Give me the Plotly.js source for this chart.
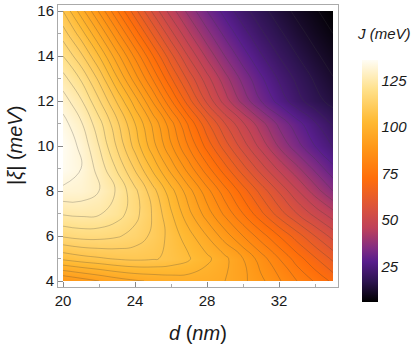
<!DOCTYPE html>
<html>
<head>
<meta charset="utf-8">
<script src="https://cdn.plot.ly/plotly-3.0.1.min.js"></script>
<style>html,body{margin:0;padding:0;background:#fff;}#chart{width:415px;height:345px;}</style>
</head>
<body>
<div id="chart"></div>
<script>
// d (nm) grid and |xi| (meV) grid
const dValues = [20,21,22,23,24,25,26,27,28,29,30,31,32,33,34,35];
const xiValues = [4,5,6,7,8,9,10,11,12,13,14,15,16];

// J (meV) rows, one per |xi| value
const J_xi4  = [88, 90, 92, 94, 95.5, 96.5, 97.5, 98, 97.5, 96, 93, 89, 84.5, 80, 75.5, 71];
const J_xi5  = [105, 106.5, 107.5, 108.5, 109, 108.5, 107, 104.5, 101, 97, 92, 86, 80, 74, 68.5, 63];
const J_xi6  = [116.5, 117.5, 117.5, 116.5, 114.5, 111, 106.5, 101.5, 96, 90, 84, 78, 72, 66, 60, 54.5];
const J_xi7  = [124.5, 125, 124.5, 122, 117.5, 111.5, 104.5, 97, 90, 83, 76, 69, 62, 56, 50.5, 45.5];
const J_xi8  = [131, 130.5, 128, 123.5, 117, 109.5, 101.5, 93.5, 85.5, 77.5, 70, 62.5, 55.5, 48.5, 42, 36];
const J_xi9  = [135, 132, 126.5, 119.5, 111.5, 103, 94.5, 86, 77.5, 69.5, 61.5, 54, 47, 41, 35, 29];
const J_xi10 = [135.5, 131, 124, 115.5, 106.5, 97.5, 88.5, 79.5, 70.5, 62, 54, 46.5, 39.5, 33.5, 28, 23.5];
const J_xi11 = [133.5, 128.5, 121.5, 113, 104, 95, 85.5, 75, 65, 56, 48.5, 41.5, 35, 29.5, 24.5, 19.5];
const J_xi12 = [130, 124.5, 116.5, 107.5, 98, 87.5, 76.5, 65.5, 55, 46, 38.5, 32, 26.5, 21.5, 17.5, 14.5];
const J_xi13 = [125.5, 119.5, 111, 100.5, 90, 79.5, 68.5, 58.5, 49.5, 41.5, 34.6, 28.7, 23.5, 19.1, 15.4, 12.2];
const J_xi14 = [120, 113, 104, 93.6, 83.1, 72.1, 61.3, 51.4, 43, 35.9, 29.8, 24.5, 19.9, 16.1, 12.8, 10];
const J_xi15 = [114, 106, 96, 85.3, 74.3, 63.4, 53.2, 44.5, 37.2, 30.9, 25.5, 20.7, 16.8, 13.4, 10.5, 8];
const J_xi16 = [108, 98, 87.5, 76.5, 65.5, 55, 46, 38.5, 32, 26.5, 21.5, 17.5, 14, 11, 8.5, 6];

const colorRange = [6, 136];
const colorbarTicks = [25, 50, 75, 100, 125];
const xTicks = [20, 24, 28, 32];
const xMinorTicks = [22, 26, 30, 34];
const yTicks = [4, 6, 8, 10, 12, 14, 16];
const yMinorTicks = [5, 7, 9, 11, 13, 15];

const zGrid = [J_xi4, J_xi5, J_xi6, J_xi7, J_xi8, J_xi9, J_xi10, J_xi11, J_xi12, J_xi13, J_xi14, J_xi15, J_xi16];

const sunset = [
  [0.0,   'rgb(0,0,0)'],
  [0.085, 'rgb(45,20,80)'],
  [0.167, 'rgb(88,30,140)'],
  [0.222, 'rgb(130,45,130)'],
  [0.305, 'rgb(190,65,90)'],
  [0.387, 'rgb(218,82,60)'],
  [0.51,  'rgb(255,110,10)'],
  [0.634, 'rgb(255,150,22)'],
  [0.744, 'rgb(255,185,50)'],
  [0.88,  'rgb(255,225,140)'],
  [1.0,   'rgb(255,253,245)']
];

const font = {family: 'Liberation Sans, Arial, sans-serif', color: '#1a1a1a'};

const field = {
  type: 'contour',
  x: dValues,
  y: xiValues,
  z: zGrid,
  zmin: colorRange[0], zmax: colorRange[1], zauto: false,
  colorscale: sunset,
  showscale: false,
  contours: {coloring: 'heatmap', start: 8, end: 132, size: 4, showlines: true},
  line: {color: 'rgba(60,60,60,0.38)', width: 0.7, smoothing: 1.3},
  hoverinfo: 'skip'
};

// carries only the continuous colour bar (markers fully transparent)
const scaleCarrier = {
  type: 'scatter', mode: 'markers',
  x: [dValues[0], dValues[0]], y: [xiValues[0], xiValues[0]],
  marker: {
    opacity: 0, size: 1,
    color: colorRange, cmin: colorRange[0], cmax: colorRange[1],
    colorscale: sunset, showscale: true,
    colorbar: {
      x: (362 - 58) / 280, xanchor: 'left', xpad: 0,
      y: (287 - 181) / 282, yanchor: 'middle', ypad: 0,
      len: 242, lenmode: 'pixels',
      thickness: 16, thicknessmode: 'pixels',
      outlinewidth: 0,
      tickmode: 'array', tickvals: colorbarTicks,
      ticks: '', ticklabelpad: 6,
      tickfont: {family: font.family, color: font.color, size: 15, style: 'italic'}
    }
  },
  hoverinfo: 'skip', showlegend: false
};

const layout = {
  width: 415, height: 345,
  margin: {l: 58, r: 77, t: 5, b: 58, pad: 0},
  paper_bgcolor: '#fff', plot_bgcolor: '#fff',
  font: font,
  showlegend: false,
  xaxis: {
    range: [20 - 5/18, 35 + 5/18],
    tickmode: 'array', tickvals: xTicks,
    ticks: 'inside', ticklen: 5, tickcolor: '#888', tickwidth: 1,
    minor: {tickvals: xMinorTicks, ticks: 'inside', ticklen: 3, tickcolor: '#aaa'},
    showline: true, linecolor: '#aaa', linewidth: 1, mirror: true,
    showgrid: false, zeroline: false,
    tickfont: {size: 15, color: '#1a1a1a'}
  },
  yaxis: {
    range: [4 - 6/22.5, 16 + 6/22.5],
    tickmode: 'array', tickvals: yTicks,
    ticks: 'inside', ticklen: 5, tickcolor: '#888', tickwidth: 1,
    minor: {tickvals: yMinorTicks, ticks: 'inside', ticklen: 3, tickcolor: '#aaa'},
    showline: true, linecolor: '#aaa', linewidth: 1, mirror: true,
    showgrid: false, zeroline: false,
    tickfont: {size: 15, color: '#1a1a1a'}
  },
  annotations: [
    {text: '<i>d</i> (<i>nm</i>)', xref: 'paper', yref: 'paper', x: 0.5, y: 0,
     xanchor: 'center', yanchor: 'middle', yshift: -46, showarrow: false,
     font: {size: 20, color: '#1a1a1a'}},
    {text: '|<i>ξ</i>| (<i>meV</i>)', xref: 'paper', yref: 'paper', x: 0, y: 0.5,
     xanchor: 'center', yanchor: 'middle', xshift: -43, textangle: -90, showarrow: false,
     font: {size: 20, color: '#1a1a1a'}},
    {text: '<i>J</i> (<i>meV</i>)', xref: 'paper', yref: 'paper', x: 1, y: 1,
     xanchor: 'center', yanchor: 'middle', xshift: 384 - 338, yshift: -(33 - 5), showarrow: false,
     font: {size: 15, color: '#1a1a1a', style: 'italic'}}
  ]
};

Plotly.newPlot('chart', [field, scaleCarrier], layout, {displayModeBar: false, staticPlot: true});
</script>
</body>
</html>
